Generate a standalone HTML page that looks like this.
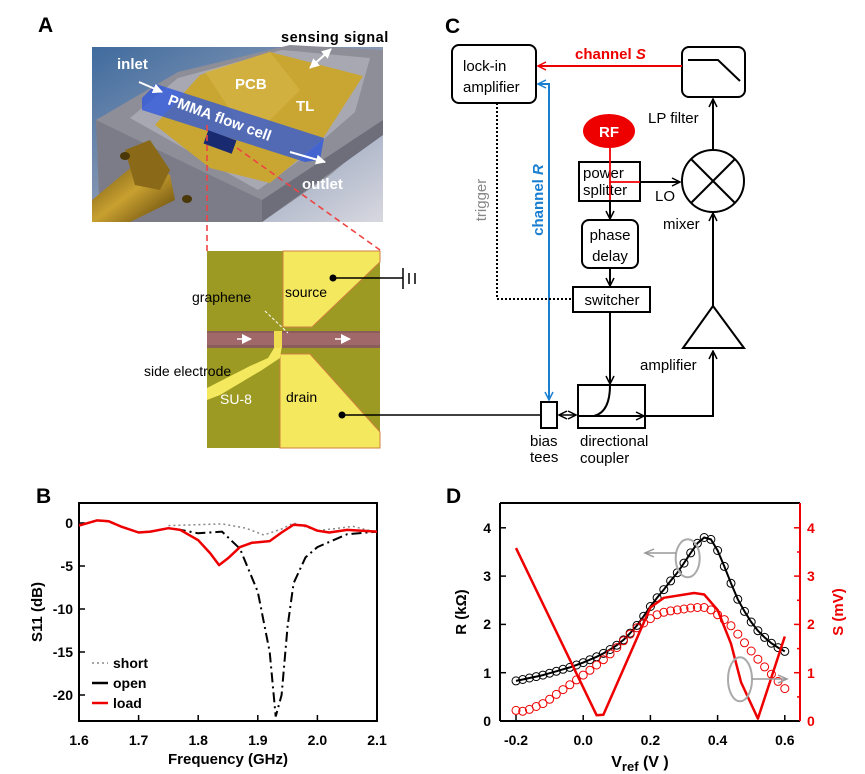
<!DOCTYPE html>
<html><head><meta charset="utf-8"><style>
html,body{margin:0;padding:0;background:#fff;}
svg{display:block;font-family:"Liberation Sans",Arial,sans-serif;}
</style></head><body>
<svg width="865" height="774" viewBox="0 0 865 774" xmlns="http://www.w3.org/2000/svg">
<defs>
<linearGradient id="bg" x1="0" y1="0" x2="1" y2="1">
<stop offset="0" stop-color="#3f6b9e"/><stop offset="0.5" stop-color="#8a9ab5"/><stop offset="1" stop-color="#d8d8e0"/>
</linearGradient>
<linearGradient id="gold" x1="0" y1="0" x2="1" y2="1">
<stop offset="0" stop-color="#6a5010"/><stop offset="0.5" stop-color="#c8a030"/><stop offset="1" stop-color="#5a4008"/>
</linearGradient>
<marker id="ak" markerWidth="10" markerHeight="10" refX="9" refY="5" orient="auto-start-reverse" markerUnits="userSpaceOnUse"><path d="M1,1 L9,5 L1,9" fill="none" stroke="#000" stroke-width="1.5"/></marker>
<marker id="ar" markerWidth="10" markerHeight="10" refX="9" refY="5" orient="auto" markerUnits="userSpaceOnUse"><path d="M1,1 L9,5 L1,9" fill="none" stroke="#e00" stroke-width="1.5"/></marker>
<marker id="ab" markerWidth="10" markerHeight="10" refX="9" refY="5" orient="auto" markerUnits="userSpaceOnUse"><path d="M1,1 L9,5 L1,9" fill="none" stroke="#1a7fd0" stroke-width="1.5"/></marker>
<marker id="aw" markerWidth="10" markerHeight="10" refX="9" refY="5" orient="auto-start-reverse" markerUnits="userSpaceOnUse"><path d="M0,0 L10,5 L0,10 Z" fill="#fff"/></marker>
<marker id="ag" markerWidth="12" markerHeight="10" refX="10" refY="5" orient="auto" markerUnits="userSpaceOnUse"><path d="M1,1 L10,5 L1,9" fill="none" stroke="#999" stroke-width="1.5"/></marker>
</defs>

<!-- ===== Panel A ===== -->
<text x="38" y="32" font-size="21" font-weight="bold">A</text>
<rect x="92" y="47" width="291" height="175" fill="url(#bg)"/>
<polygon points="96,120 178,72 290,45 383,50 383,130 330,175 262,222 100,222" fill="#8e8e98"/>
<polygon points="96,120 262,200 262,222 100,222" fill="#7c7c88"/>
<polygon points="262,200 383,120 383,135 262,222" fill="#6e6e7a"/>
<polygon points="130,118 178,78 282,50 370,58 355,112 300,160 258,190" fill="#a8a8b2"/>
<polygon points="155,125 200,75 270,52 363,76 322,140 270,183 210,168" fill="#c9a632"/>
<polygon points="205,72 270,52 300,90 250,140" fill="#d8b848" opacity="0.6"/>
<polygon points="142,98 156,84 324,138 320,160 305,162 142,110" fill="#2a55e0" opacity="0.75"/>
<rect x="205" y="135" width="30" height="14" fill="#1a2a70" transform="rotate(20 220 142)"/>
<polygon points="92,200 140,160 170,175 175,200 130,222 92,222" fill="url(#gold)"/>
<polygon points="125,150 150,140 170,170 160,190 135,185" fill="#8a6a18"/>
<ellipse cx="125" cy="156" rx="5" ry="4" fill="#4a3808"/>
<ellipse cx="187" cy="199" rx="5" ry="4" fill="#4a3808"/>
<text x="117" y="69" font-size="15" font-weight="bold" fill="#fff">inlet</text>
<line x1="139" y1="82" x2="162" y2="92" stroke="#fff" stroke-width="2" marker-end="url(#aw)"/>
<text x="235" y="89" font-size="15" font-weight="bold" fill="#fff">PCB</text>
<text x="296" y="111" font-size="15" font-weight="bold" fill="#fff">TL</text>
<text x="167" y="104" font-size="15" font-weight="bold" fill="#fff" transform="rotate(20 167 104)">PMMA flow cell</text>
<line x1="290" y1="152" x2="325" y2="162" stroke="#fff" stroke-width="2" marker-end="url(#aw)"/>
<text x="302" y="189" font-size="15" font-weight="bold" fill="#fff">outlet</text>
<text x="281" y="42" font-size="14.5" font-weight="bold" letter-spacing="0.5">sensing signal</text>
<line x1="310" y1="68" x2="331" y2="49" stroke="#fff" stroke-width="2" marker-end="url(#aw)" marker-start="url(#aw)"/>
<line x1="207" y1="125" x2="207" y2="251" stroke="#e44" stroke-width="1.6" stroke-dasharray="6,4"/>
<line x1="237" y1="148" x2="380" y2="250" stroke="#e44" stroke-width="1.6" stroke-dasharray="6,4"/>

<!-- micrograph -->
<rect x="207" y="251" width="173" height="197" fill="#9c9a22"/>
<polygon points="283,251 380,251 380,262 312,327 283,327" fill="#f4e85e" stroke="#d08040" stroke-width="1"/>
<polygon points="280,354 310,354 380,432 380,448 280,448" fill="#f4e85e" stroke="#d08040" stroke-width="1"/>
<polygon points="207,388 250,366 268,358 276,345 282,345 280,358 262,370 220,395 207,400" fill="#f4e85e"/>
<rect x="207" y="331" width="173" height="17" fill="#8a5c5a"/>
<rect x="207" y="333" width="173" height="12" fill="#a06868"/>
<rect x="274" y="331" width="8" height="17" fill="#f0dc50"/>
<line x1="237" y1="339" x2="251" y2="339" stroke="#fff" stroke-width="1.5" marker-end="url(#aw)"/>
<line x1="335" y1="339" x2="350" y2="339" stroke="#fff" stroke-width="1.5" marker-end="url(#aw)"/>
<line x1="265" y1="311" x2="288" y2="333" stroke="#fff" stroke-width="1" stroke-dasharray="3,2"/>
<text x="192" y="302" font-size="14">graphene</text>
<text x="285" y="297" font-size="14">source</text>
<text x="144" y="376" font-size="14">side electrode</text>
<text x="220" y="404" font-size="14" fill="#fff">SU-8</text>
<text x="286" y="402" font-size="14">drain</text>
<circle cx="333" cy="278" r="3.5" fill="#000"/>
<line x1="333" y1="278" x2="403" y2="278" stroke="#000" stroke-width="1.5"/>
<line x1="403" y1="268" x2="403" y2="289" stroke="#000" stroke-width="1.5"/>
<line x1="409" y1="273" x2="409" y2="284" stroke="#000" stroke-width="1.5"/>
<line x1="415" y1="273" x2="415" y2="284" stroke="#000" stroke-width="1.5"/>
<circle cx="342" cy="415" r="3.5" fill="#000"/>
<line x1="342" y1="415" x2="541" y2="415" stroke="#000" stroke-width="1.5"/>

<!-- ===== Panel C ===== -->
<text x="445" y="33" font-size="21" font-weight="bold">C</text>
<rect x="452" y="45" width="84" height="58" rx="7" fill="none" stroke="#000" stroke-width="2"/>
<text x="463" y="71" font-size="15">lock-in</text>
<text x="463" y="92" font-size="15">amplifier</text>
<rect x="682" y="47" width="63" height="50" rx="7" fill="none" stroke="#000" stroke-width="2"/>
<polyline points="688,60 718,60 740,81" fill="none" stroke="#000" stroke-width="2"/>
<line x1="682" y1="66" x2="538" y2="66" stroke="#e00" stroke-width="2" marker-end="url(#ar)"/>
<text x="575" y="59" font-size="15" font-weight="bold" fill="#e00">channel <tspan font-style="italic">S</tspan></text>
<text x="648" y="123" font-size="15">LP filter</text>
<line x1="713" y1="150" x2="713" y2="99" stroke="#000" stroke-width="2" marker-end="url(#ak)"/>
<circle cx="713" cy="181" r="31" fill="none" stroke="#000" stroke-width="2"/>
<line x1="691" y1="159" x2="735" y2="203" stroke="#000" stroke-width="2"/>
<line x1="735" y1="159" x2="691" y2="203" stroke="#000" stroke-width="2"/>
<text x="663" y="229" font-size="15">mixer</text>
<ellipse cx="609" cy="131" rx="26" ry="17" fill="#e00"/>
<text x="609" y="137" font-size="15" font-weight="bold" fill="#fff" text-anchor="middle">RF</text>
<rect x="579" y="162" width="61" height="39" fill="none" stroke="#000" stroke-width="2"/>
<text x="583" y="178" font-size="15">power</text>
<text x="583" y="195" font-size="15">splitter</text>
<line x1="610" y1="148" x2="610" y2="200" stroke="#e00" stroke-width="1.8"/>
<line x1="610" y1="182" x2="640" y2="182" stroke="#e00" stroke-width="1.8"/>
<line x1="640" y1="182" x2="680" y2="182" stroke="#000" stroke-width="2" marker-end="url(#ak)"/>
<text x="655" y="201" font-size="15">LO</text>
<line x1="610" y1="201" x2="610" y2="219" stroke="#000" stroke-width="2" marker-end="url(#ak)"/>
<rect x="582" y="220" width="56" height="48" rx="7" fill="none" stroke="#000" stroke-width="2"/>
<text x="610" y="240" font-size="15" text-anchor="middle">phase</text>
<text x="610" y="261" font-size="15" text-anchor="middle">delay</text>
<line x1="610" y1="268" x2="610" y2="286" stroke="#000" stroke-width="2" marker-end="url(#ak)"/>
<rect x="573" y="287" width="77" height="25" fill="none" stroke="#000" stroke-width="2"/>
<text x="612" y="305" font-size="15" text-anchor="middle">switcher</text>
<line x1="610" y1="312" x2="610" y2="384" stroke="#000" stroke-width="2" marker-end="url(#ak)"/>
<rect x="578" y="385" width="67" height="43" fill="none" stroke="#000" stroke-width="2"/>
<path d="M610,385 Q610,412 594,416" fill="none" stroke="#000" stroke-width="2"/>
<line x1="578" y1="416" x2="644" y2="416" stroke="#000" stroke-width="2" marker-end="url(#ak)"/>
<polyline points="645,416 713,416 713,351" fill="none" stroke="#000" stroke-width="2" marker-end="url(#ak)"/>
<polygon points="713,306 683,348 744,348" fill="none" stroke="#000" stroke-width="2"/>
<line x1="713" y1="306" x2="713" y2="213" stroke="#000" stroke-width="2" marker-end="url(#ak)"/>
<text x="640" y="370" font-size="15">amplifier</text>
<rect x="541" y="402" width="16" height="26" fill="none" stroke="#000" stroke-width="2"/>
<line x1="559" y1="415" x2="576" y2="415" stroke="#000" stroke-width="1.6" marker-end="url(#ak)" marker-start="url(#ak)"/>
<text x="530" y="446" font-size="15">bias</text>
<text x="530" y="462" font-size="15">tees</text>
<text x="580" y="446" font-size="15">directional</text>
<text x="580" y="463" font-size="15">coupler</text>
<polyline points="538,84 549,84 549,400" fill="none" stroke="#1a7fd0" stroke-width="2" marker-end="url(#ab)"/>
<line x1="549" y1="84" x2="538" y2="84" stroke="#1a7fd0" stroke-width="2" marker-end="url(#ab)"/>
<text x="543" y="200" font-size="15" font-weight="bold" fill="#1a7fd0" text-anchor="middle" transform="rotate(-90 543 200)">channel <tspan font-style="italic">R</tspan></text>
<polyline points="497,103 497,299 573,299" fill="none" stroke="#000" stroke-width="2" stroke-dasharray="2,2"/>
<text x="486" y="200" font-size="15" fill="#888" text-anchor="middle" transform="rotate(-90 486 200)">trigger</text>

<!-- ===== Panel B ===== -->
<text x="36" y="503" font-size="21" font-weight="bold">B</text>
<rect x="79" y="503" width="298" height="218" fill="none" stroke="#000" stroke-width="2"/>
<g stroke="#000" stroke-width="1.5">
<line x1="79" y1="523" x2="85" y2="523"/><line x1="79" y1="566" x2="85" y2="566"/><line x1="79" y1="609" x2="85" y2="609"/><line x1="79" y1="652" x2="85" y2="652"/><line x1="79" y1="695" x2="85" y2="695"/>
<line x1="138.6" y1="721" x2="138.6" y2="715"/><line x1="198.2" y1="721" x2="198.2" y2="715"/><line x1="257.8" y1="721" x2="257.8" y2="715"/><line x1="317.4" y1="721" x2="317.4" y2="715"/>
</g>
<g font-size="14" font-weight="bold" text-anchor="end">
<text x="73" y="528">0</text><text x="73" y="571">-5</text><text x="73" y="614">-10</text><text x="73" y="657">-15</text><text x="73" y="700">-20</text>
</g>
<g font-size="14" font-weight="bold" text-anchor="middle">
<text x="79" y="745">1.6</text><text x="138.6" y="745">1.7</text><text x="198.2" y="745">1.8</text><text x="257.8" y="745">1.9</text><text x="317.4" y="745">2.0</text><text x="377" y="745">2.1</text>
</g>
<text x="228" y="764" font-size="15" font-weight="bold" text-anchor="middle">Frequency (GHz)</text>
<text x="42" y="612" font-size="15" font-weight="bold" text-anchor="middle" transform="rotate(-90 42 612)">S11 (dB)</text>
<polyline points="168.4,525.6 222,523.9 245.9,528.2 263.8,535 281.6,529 293.6,523 317.4,530.7 353.2,526.4 377,532.5" fill="none" stroke="#888" stroke-width="1.5" stroke-dasharray="2,3"/>
<polyline points="79,525.6 96.9,520.4 108.8,521.3 120.7,526.4 138.6,532.5 150.5,531.6 168.4,528.2 180.3,529.9 198.2,533.3 222,531.6 240,548.8 257.8,591.8 269.7,652 275.7,716.5 281.6,695 287.6,626.2 293.6,583.2 305.5,557.4 317.4,547.1 347.2,534.2 377,531.6" fill="none" stroke="#000" stroke-width="2" stroke-dasharray="10,4,2,4"/>
<polyline points="79,525.6 96.9,520.4 108.8,521.3 120.7,526.4 138.6,532.5 150.5,531.6 168.4,528.2 180.3,529.9 198.2,540.2 210.1,553.1 219.1,565.1 228,558.3 240,547.1 251.8,542.8 269.7,541.1 281.6,532.5 293.6,524.7 305.5,525.6 317.4,530.7 329.3,532.5 347.2,529.9 377,531.6" fill="none" stroke="#e00" stroke-width="2.5" stroke-linejoin="round"/>
<line x1="92" y1="663" x2="108" y2="663" stroke="#888" stroke-width="1.5" stroke-dasharray="2,3"/>
<line x1="92" y1="683" x2="108" y2="683" stroke="#000" stroke-width="2.5"/>
<line x1="92" y1="703" x2="108" y2="703" stroke="#e00" stroke-width="2.5"/>
<g font-size="14" font-weight="bold"><text x="113" y="668">short</text><text x="113" y="688">open</text><text x="113" y="708">load</text></g>

<!-- ===== Panel D ===== -->
<text x="446" y="503" font-size="21" font-weight="bold">D</text>
<line x1="500" y1="503" x2="800" y2="503" stroke="#000" stroke-width="2"/>
<line x1="500" y1="503" x2="500" y2="721" stroke="#000" stroke-width="2"/>
<line x1="500" y1="721" x2="800" y2="721" stroke="#000" stroke-width="2"/>
<line x1="800" y1="503" x2="800" y2="721" stroke="#e00" stroke-width="2"/>
<g stroke="#000" stroke-width="1.5">
<line x1="500" y1="672.7" x2="506" y2="672.7"/><line x1="500" y1="624.4" x2="506" y2="624.4"/><line x1="500" y1="576.1" x2="506" y2="576.1"/><line x1="500" y1="527.8" x2="506" y2="527.8"/>
<line x1="516" y1="721" x2="516" y2="715"/><line x1="583.2" y1="721" x2="583.2" y2="715"/><line x1="650.4" y1="721" x2="650.4" y2="715"/><line x1="717.6" y1="721" x2="717.6" y2="715"/><line x1="784.8" y1="721" x2="784.8" y2="715"/>
</g>
<g stroke="#e00" stroke-width="1.5">
<line x1="794" y1="672.7" x2="800" y2="672.7"/><line x1="794" y1="624.4" x2="800" y2="624.4"/><line x1="794" y1="576.1" x2="800" y2="576.1"/><line x1="794" y1="527.8" x2="800" y2="527.8"/>
<line x1="797" y1="696.9" x2="800" y2="696.9"/><line x1="797" y1="648.6" x2="800" y2="648.6"/><line x1="797" y1="600.3" x2="800" y2="600.3"/><line x1="797" y1="552" x2="800" y2="552"/>
</g>
<g font-size="14" font-weight="bold" text-anchor="end">
<text x="491" y="726">0</text><text x="491" y="678">1</text><text x="491" y="629">2</text><text x="491" y="581">3</text><text x="491" y="533">4</text>
</g>
<g font-size="14" font-weight="bold" fill="#e00">
<text x="807" y="726">0</text><text x="807" y="678">1</text><text x="807" y="629">2</text><text x="807" y="581">3</text><text x="807" y="533">4</text>
</g>
<g font-size="14" font-weight="bold" text-anchor="middle">
<text x="516" y="745">-0.2</text><text x="583.2" y="745">0.0</text><text x="650.4" y="745">0.2</text><text x="717.6" y="745">0.4</text><text x="784.8" y="745">0.6</text>
</g>
<text x="640" y="767" font-size="16" font-weight="bold" text-anchor="middle">V<tspan font-size="13" dy="4">ref</tspan><tspan dy="-4"> (V )</tspan></text>
<text x="466" y="612" font-size="15" font-weight="bold" text-anchor="middle" transform="rotate(-90 466 612)">R (kΩ)</text>
<text x="843" y="612" font-size="15" font-weight="bold" fill="#e00" text-anchor="middle" transform="rotate(-90 843 612)">S (mV)</text>
<polyline points="516,680.9 522.7,679.5 529.4,678 536.2,676.6 542.9,675.1 549.6,673.2 556.3,671.3 563,669.3 569.8,667.4 576.5,665 583.2,662.6 589.9,659.7 596.6,656.8 603.4,653.4 610.1,649.5 616.8,645.2 623.5,639.9 630.2,633.1 637,625.4 643.7,616.2 650.4,606.5 657.1,597.8 663.8,589.6 670.6,580.9 677.3,572.7 684,563.1 690.7,552.9 697.4,543.3 704.2,537.5 710.9,539.4 717.6,550.5 724.3,566.4 731,583.3 737.8,599.3 744.5,611.4 751.2,622 757.9,630.7 764.6,637.4 771.4,643.2 778.1,647.6 784.8,651.4" fill="none" stroke="#000" stroke-width="2"/>
<g fill="none" stroke="#000" stroke-width="1">
<circle cx="516" cy="680.9" r="4"/><circle cx="522.7" cy="679.5" r="4"/><circle cx="529.4" cy="678" r="4"/><circle cx="536.2" cy="676.6" r="4"/><circle cx="542.9" cy="675.1" r="4"/><circle cx="549.6" cy="673.2" r="4"/><circle cx="556.3" cy="671.3" r="4"/><circle cx="563" cy="669.3" r="4"/><circle cx="569.8" cy="667.4" r="4"/><circle cx="576.5" cy="665" r="4"/><circle cx="583.2" cy="662.6" r="4"/><circle cx="589.9" cy="659.7" r="4"/><circle cx="596.6" cy="656.8" r="4"/><circle cx="603.4" cy="653.4" r="4"/><circle cx="610.1" cy="649.5" r="4"/><circle cx="616.8" cy="645.2" r="4"/><circle cx="623.5" cy="639.9" r="4"/><circle cx="630.2" cy="633.1" r="4"/><circle cx="637" cy="625.4" r="4"/><circle cx="643.7" cy="616.2" r="4"/><circle cx="650.4" cy="606.5" r="4"/><circle cx="657.1" cy="597.8" r="4"/><circle cx="663.8" cy="589.6" r="4"/><circle cx="670.6" cy="580.9" r="4"/><circle cx="677.3" cy="572.7" r="4"/><circle cx="684" cy="563.1" r="4"/><circle cx="690.7" cy="552.9" r="4"/><circle cx="697.4" cy="543.3" r="4"/><circle cx="704.2" cy="537.5" r="4"/><circle cx="710.9" cy="539.4" r="4"/><circle cx="717.6" cy="550.5" r="4"/><circle cx="724.3" cy="566.4" r="4"/><circle cx="731" cy="583.3" r="4"/><circle cx="737.8" cy="599.3" r="4"/><circle cx="744.5" cy="611.4" r="4"/><circle cx="751.2" cy="622" r="4"/><circle cx="757.9" cy="630.7" r="4"/><circle cx="764.6" cy="637.4" r="4"/><circle cx="771.4" cy="643.2" r="4"/><circle cx="778.1" cy="647.6" r="4"/><circle cx="784.8" cy="651.4" r="4"/>
</g>
<g fill="none" stroke="#e00" stroke-width="1">
<circle cx="516" cy="710.4" r="4"/><circle cx="522.7" cy="711.3" r="4"/><circle cx="529.4" cy="709.4" r="4"/><circle cx="536.2" cy="706.5" r="4"/><circle cx="542.9" cy="703.6" r="4"/><circle cx="549.6" cy="699.3" r="4"/><circle cx="556.3" cy="694.4" r="4"/><circle cx="563" cy="689.6" r="4"/><circle cx="569.8" cy="684.8" r="4"/><circle cx="576.5" cy="679.9" r="4"/><circle cx="583.2" cy="675.1" r="4"/><circle cx="589.9" cy="670.3" r="4"/><circle cx="596.6" cy="665" r="4"/><circle cx="603.4" cy="659.7" r="4"/><circle cx="610.1" cy="653.9" r="4"/><circle cx="616.8" cy="647.6" r="4"/><circle cx="623.5" cy="640.8" r="4"/><circle cx="630.2" cy="634.1" r="4"/><circle cx="637" cy="627.8" r="4"/><circle cx="643.7" cy="623" r="4"/><circle cx="650.4" cy="618.6" r="4"/><circle cx="657.1" cy="614.7" r="4"/><circle cx="663.8" cy="612.3" r="4"/><circle cx="670.6" cy="610.9" r="4"/><circle cx="677.3" cy="609.9" r="4"/><circle cx="684" cy="609" r="4"/><circle cx="690.7" cy="608" r="4"/><circle cx="697.4" cy="607.5" r="4"/><circle cx="704.2" cy="607.5" r="4"/><circle cx="710.9" cy="609.9" r="4"/><circle cx="717.6" cy="614.7" r="4"/><circle cx="724.3" cy="619.6" r="4"/><circle cx="731" cy="625.8" r="4"/><circle cx="737.8" cy="634.1" r="4"/><circle cx="744.5" cy="642.8" r="4"/><circle cx="751.2" cy="651" r="4"/><circle cx="757.9" cy="659.2" r="4"/><circle cx="764.6" cy="666.9" r="4"/><circle cx="771.4" cy="674.2" r="4"/><circle cx="778.1" cy="681.4" r="4"/><circle cx="784.8" cy="688.6" r="4"/>
</g>
<polyline points="516,548.1 596.6,715.2 603.4,714.7 650.4,607.5 663.8,597.8 694.1,593 704.2,594.5 717.6,609.9 731,643.7 741.1,682.4 757.9,718.6 784.8,636.5" fill="none" stroke="#e00" stroke-width="2.5" stroke-linejoin="round"/>
<ellipse cx="687.7" cy="558.3" rx="12" ry="19" fill="none" stroke="#aaa" stroke-width="2"/>
<line x1="676" y1="553" x2="645" y2="553" stroke="#999" stroke-width="1.5" marker-end="url(#ag)"/>
<ellipse cx="740" cy="679.3" rx="12" ry="22" fill="none" stroke="#aaa" stroke-width="2"/>
<line x1="752" y1="679" x2="787" y2="679" stroke="#999" stroke-width="1.5" marker-end="url(#ag)"/>
</svg>
</body></html>
